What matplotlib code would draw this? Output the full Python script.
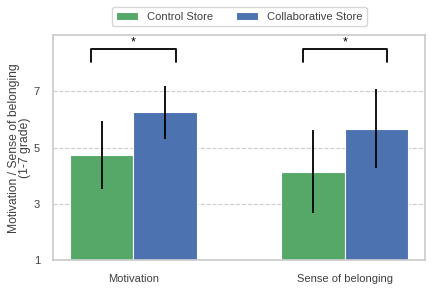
import numpy as np
import matplotlib
matplotlib.use("Agg")
import matplotlib.pyplot as plt
import seaborn as sns

sns.set_theme(style="whitegrid")
plt.rcParams['font.family'] = ['Liberation Sans', 'DejaVu Sans']
plt.rcParams['text.color'] = '0.25'
plt.rcParams['axes.labelcolor'] = '0.25'
plt.rcParams['xtick.color'] = '0.25'
plt.rcParams['ytick.color'] = '0.25'

categories = ["Motivation", "Sense of belonging"]
control_mean = [4.75, 4.15]
control_sd = [1.2, 1.47]
collab_mean = [6.25, 5.68]
collab_sd = [0.93, 1.4]

green = "#55A868"
blue = "#4C72B0"
width = 0.3
x = np.arange(len(categories))

fig, ax = plt.subplots(figsize=(4.36, 2.91), dpi=100)
ax.bar(x - width / 2, control_mean, width, yerr=control_sd, color=green,
       edgecolor="white", linewidth=0.8, label="Control Store",
       error_kw=dict(ecolor="black", elinewidth=1.3, capsize=0))
ax.bar(x + width / 2, collab_mean, width, yerr=collab_sd, color=blue,
       edgecolor="white", linewidth=0.8, label="Collaborative Store",
       error_kw=dict(ecolor="black", elinewidth=1.3, capsize=0))

# significance brackets
for xi in x:
    x1, x2 = xi - 0.2, xi + 0.2
    ax.plot([x1, x1, x2, x2], [8.05, 8.5, 8.5, 8.05], color="black", lw=1.3)
    ax.text(xi, 8.52, "*", ha="center", va="bottom", fontsize=9, color="black")

ax.set_ylim(1, 9)
ax.set_yticks([1, 3, 5, 7])
ax.set_xticks(x)
ax.set_xticklabels(categories, fontsize=8)
ax.tick_params(axis="y", labelsize=8)
ax.set_ylabel("Motivation / Sense of belonging\n(1-7 grade)", fontsize=8.7,
              linespacing=0.9)
ax.yaxis.set_label_coords(-0.06, 0.5)
ax.xaxis.grid(False)
ax.yaxis.grid(True, linestyle="--", linewidth=0.8)
ax.set_axisbelow(True)
ax.legend(loc="lower center", bbox_to_anchor=(0.5, 1.015), ncol=2,
          fontsize=8, frameon=True)

plt.subplots_adjust(left=0.122, right=0.975, top=0.88, bottom=0.105)
plt.savefig("out.png", dpi=100)
